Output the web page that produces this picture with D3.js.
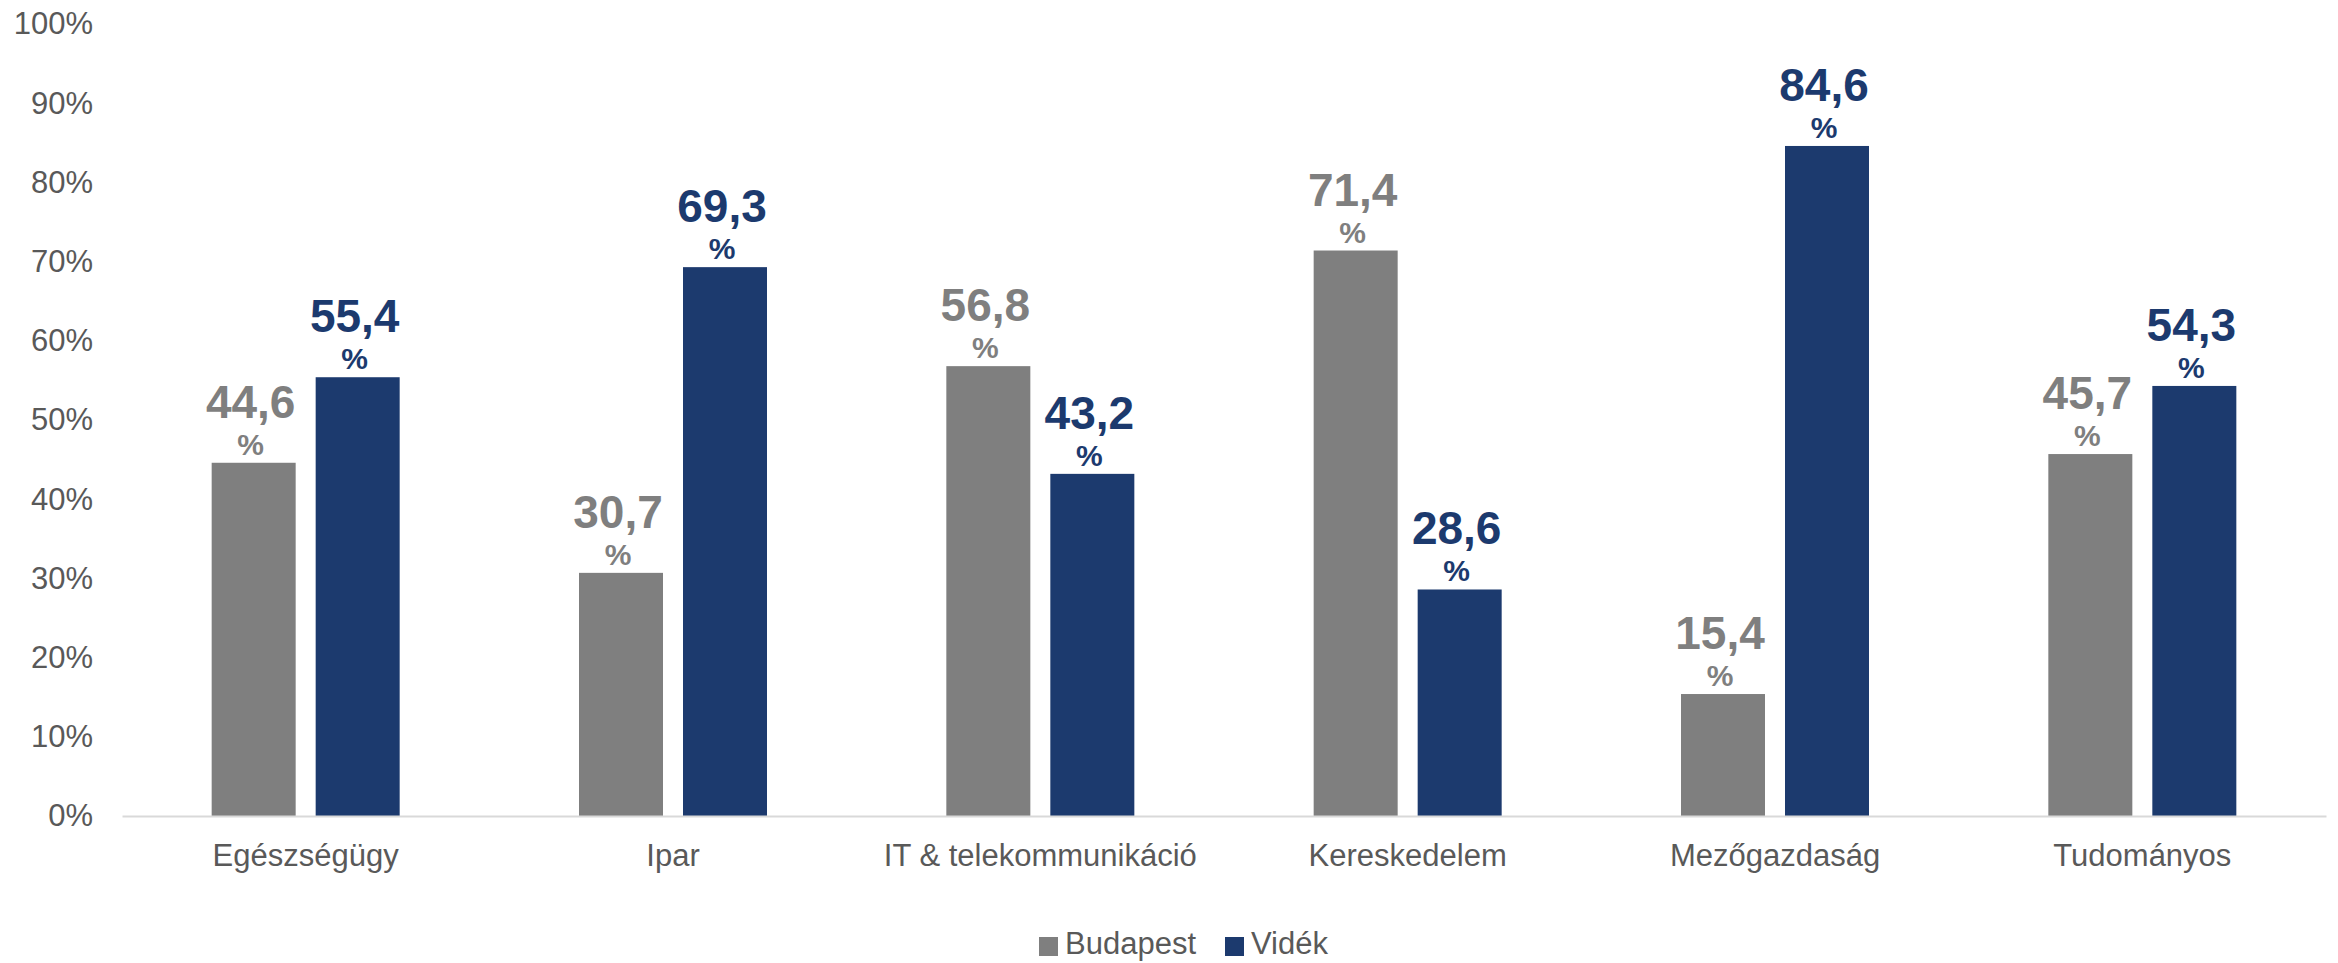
<!DOCTYPE html>
<html><head><meta charset="utf-8">
<script src="https://cdn.jsdelivr.net/npm/d3@7"></script>
<style>html,body{margin:0;padding:0;background:#fff;}svg{display:block;font-family:"Liberation Sans",Arial,sans-serif;}</style>
</head><body>
<script>
const categories = ["Egészségügy","Ipar","IT & telekommunikáció","Kereskedelem","Mezőgazdaság","Tudományos"];
const seriesNames = ["Budapest","Vidék"];
const budapest = [44.6,30.7,56.8,71.4,15.4,45.7];
const videk = [55.4,69.3,43.2,28.6,84.6,54.3];
const yTicks = [0,10,20,30,40,50,60,70,80,90,100];
const colors = {"Budapest":"#7f7f7f","Vidék":"#1c3a6e"};

(function(){
const W=2338,H=963;
const svg=d3.select("body").append("svg").attr("width",W).attr("height",H);
const mLeft=122,mRight=2326,mTop=24,mBottom=816;
const x0=d3.scaleBand().domain(categories).range([mLeft,mRight]).padding(0);
const bw=x0.bandwidth();
const x1=d3.scaleBand().domain(seriesNames).range([bw/2-94,bw/2+94]).paddingInner(20/104).paddingOuter(0);
const y=d3.scaleLinear().domain([0,100]).range([mBottom,mTop]);

const yAxis=d3.axisLeft(y).tickValues(yTicks).tickFormat(d=>d+"%").tickSize(0).tickPadding(0);
const gy=svg.append("g").attr("transform",`translate(93,0)`).call(yAxis);
gy.select(".domain").remove();
gy.selectAll("text").attr("font-size",31).attr("fill","#595959").attr("font-family","Liberation Sans, Arial, sans-serif");

const data=categories.map((c,i)=>({cat:c,vals:[{s:"Budapest",v:budapest[i]},{s:"Vidék",v:videk[i]}]}));
const g=svg.append("g").selectAll("g").data(data).join("g").attr("transform",d=>`translate(${x0(d.cat)},0)`);
g.selectAll("rect").data(d=>d.vals).join("rect")
 .attr("x",d=>x1(d.s)).attr("width",x1.bandwidth())
 .attr("y",d=>y(d.v)).attr("height",d=>y(0)-y(d.v)).attr("fill",d=>colors[d.s]);
const fmt=v=>v.toFixed(1).replace(".",",");
g.selectAll("text.num").data(d=>d.vals).join("text").attr("class","num")
 .attr("x",d=>x1(d.s)+x1.bandwidth()/2-3).attr("y",d=>y(d.v)-45)
 .attr("text-anchor","middle").attr("font-size",46).attr("font-weight","bold")
 .attr("fill",d=>colors[d.s]).text(d=>fmt(d.v));
g.selectAll("text.pct").data(d=>d.vals).join("text").attr("class","pct")
 .attr("x",d=>x1(d.s)+x1.bandwidth()/2-3).attr("y",d=>y(d.v)-8)
 .attr("text-anchor","middle").attr("font-size",30).attr("font-weight","bold")
 .attr("fill",d=>colors[d.s]).text("%");

const xAxis=d3.axisBottom(x0).tickSize(0).tickPadding(28);
const gx=svg.append("g").attr("transform",`translate(0,${mBottom})`).call(xAxis);
gx.select(".domain").attr("stroke","#d9d9d9").attr("stroke-width",2);
gx.selectAll("text").attr("font-size",31).attr("fill","#595959").attr("font-family","Liberation Sans, Arial, sans-serif").attr("dy","0.71em");

const leg=svg.append("g");
const legItems=[{s:"Budapest",x:1039},{s:"Vidék",x:1225}];
legItems.forEach(it=>{
  leg.append("rect").attr("x",it.x).attr("y",937).attr("width",19).attr("height",19).attr("fill",colors[it.s]);
  leg.append("text").attr("x",it.x+26).attr("y",954).attr("font-size",31).attr("fill","#595959").text(it.s);
});
})();
</script>
</body></html>
